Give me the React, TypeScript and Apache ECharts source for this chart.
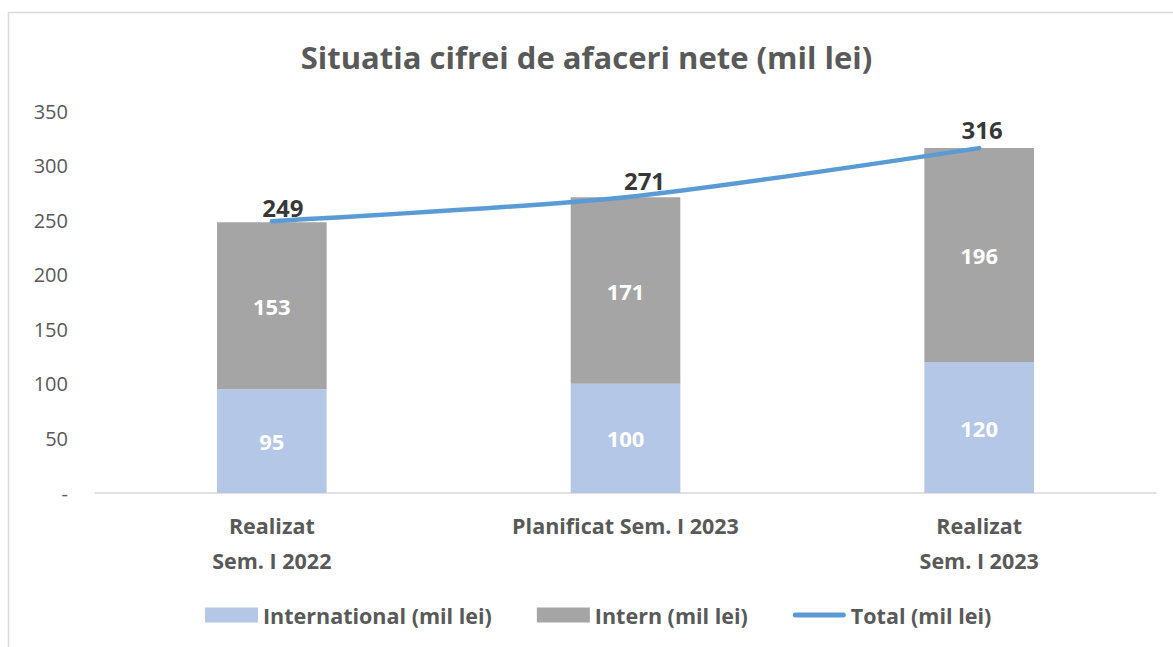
import React, { useEffect, useRef } from "react";
import * as echarts from "echarts";

const categories = ["Realizat\nSem. I 2022", "Planificat Sem. I 2023", "Realizat\nSem. I 2023"];
const international = [95, 100, 120];
const intern = [153, 171, 196];
const total = [249, 271, 316];

const FONT = "'Open Sans', sans-serif";
const TEXT = "#595959";

export default function App() {
  const ref = useRef<HTMLDivElement>(null);
  useEffect(() => {
    if (!ref.current) return;
    const chart = echarts.init(ref.current, null, { renderer: "svg" });
    const totalOffsets = [[11, 0], [19, -3], [3, -5]];
    chart.setOption({
      animation: false,
      backgroundColor: "#ffffff",
      textStyle: { fontFamily: FONT },
      title: {
        text: "Situatia cifrei de afaceri nete (mil lei)",
        left: "center",
        top: 36,
        textStyle: { fontFamily: FONT, fontSize: 31, fontWeight: "bold", color: TEXT },
      },
      graphic: [
        {
          type: "rect",
          shape: { x: 8.5, y: 12.5, width: 1300, height: 800 },
          style: { fill: "none", stroke: "#d9d9d9", lineWidth: 1.5 },
          silent: true,
          z: -10,
        },
      ],
      legend: {
        bottom: 16,
        left: 200,
        itemWidth: 53,
        itemHeight: 15,
        itemGap: 45,
        symbolKeepAspect: true,
        textStyle: { fontFamily: FONT, fontSize: 21.5, fontWeight: "bold", color: TEXT, padding: [0, 0, 0, 0] },
        data: [
          { name: "International (mil lei)", icon: "rect" },
          { name: "Intern (mil lei)", icon: "rect" },
          {
            name: "Total (mil lei)",
            icon: "path://M2,0 L50,0 A2.5,2.5 0 0 1 50,5 L2,5 A2.5,2.5 0 0 1 2,0 Z",
            symbolKeepAspect: true,
            itemStyle: { color: "#5b9bd5" },
          },
        ],
      },
      grid: { left: 95, right: 17, top: 111, bottom: 154, containLabel: false },
      xAxis: {
        type: "category",
        data: categories,
        axisLine: { lineStyle: { color: "#d9d9d9", width: 1.5 } },
        axisTick: { show: false },
        axisLabel: {
          fontFamily: FONT,
          fontSize: 21.5,
          fontWeight: "bold",
          color: TEXT,
          lineHeight: 35,
          margin: 15,
          interval: 0,
        },
      },
      yAxis: {
        type: "value",
        min: 0,
        max: 350,
        interval: 50,
        splitLine: { show: false },
        axisLine: { show: false },
        axisTick: { show: false },
        axisLabel: {
          fontFamily: FONT,
          fontSize: 20,
          color: TEXT,
          margin: 27,
          formatter: (v: number) => (v === 0 ? "-" : String(v)),
        },
      },
      series: [
        {
          name: "International (mil lei)",
          type: "bar",
          stack: "a",
          barWidth: "31%",
          data: international,
          itemStyle: { color: "#b4c7e7" },
          label: {
            show: true,
            position: "inside",
            color: "#ffffff",
            fontFamily: FONT,
            fontSize: 22,
            fontWeight: "bold",
          },
        },
        {
          name: "Intern (mil lei)",
          type: "bar",
          stack: "a",
          barWidth: "31%",
          data: intern,
          itemStyle: { color: "#a5a5a5" },
          label: {
            show: true,
            position: "inside",
            color: "#ffffff",
            fontFamily: FONT,
            fontSize: 22,
            fontWeight: "bold",
          },
        },
        {
          name: "Total (mil lei)",
          type: "line",
          data: total,
          smooth: 0.25,
          symbol: "none",
          lineStyle: { color: "#5b9bd5", width: 4.5, cap: "round" },
          itemStyle: { color: "#5b9bd5" },
          z: 5,
        },
        {
          name: "Total labels",
          type: "scatter",
          symbolSize: 0,
          data: total.map((v, i) => ({
            value: v,
            label: { offset: totalOffsets[i] },
          })),
          z: 6,
          label: {
            show: true,
            position: "top",
            distance: 2,
            color: "#000000",
            fontFamily: FONT,
            fontSize: 24,
            fontWeight: "bold",
          },
        },
      ],
    });
    return () => chart.dispose();
  }, []);
  return (
    <div
      ref={ref}
      style={{ position: "fixed", left: 0, top: 0, width: 1173, height: 647 }}
    />
  );
}
